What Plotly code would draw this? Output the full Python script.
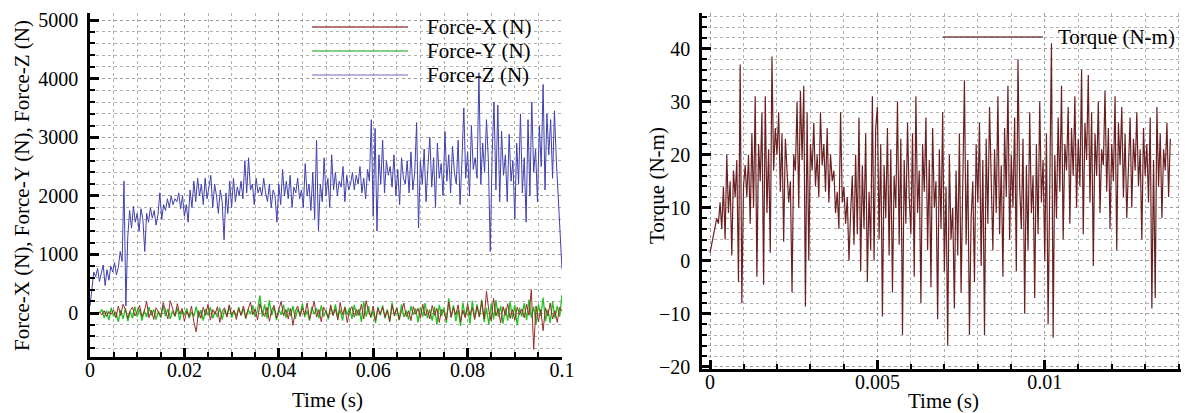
import numpy as np
import plotly.graph_objects as go

# ---- data ----
# Force-Z (N), sampled every 0.4 ms from 0 to 0.1 s
force_z = [
    120, 380, 700, 620, 760, 540, 680, 820, 470, 740,
    560, 800, 700, 860, 650, 780, 1050, 880, 2250, 120,
    1300, 1750, 1450, 1820, 1550, 1700, 1400, 1780, 1600, 1050,
    1700, 1550, 1800, 1620, 1750, 1500, 1680, 2050, 1600, 1850,
    1750, 1950, 1800, 2000, 1850, 1950, 1900, 2050, 1780, 2000,
    1650, 1850, 1550, 2100, 1800, 2250, 1900, 2300, 2000, 2200,
    1850, 2300, 1950, 2150, 2350, 1800, 2200, 2000, 1700, 2100,
    1900, 1250, 2050, 1700, 2250, 1800, 2300, 1900, 2150, 2000,
    2250, 1950, 2600, 2050, 2650, 2100, 2200, 1850, 2300, 2050,
    2150, 2000, 2300, 2050, 1900, 2200, 1800, 2100, 2000, 1550,
    2200, 1850, 2450, 2000, 2250, 1950, 2350, 1800, 2150, 2050,
    2300, 1950, 2100, 1800, 2550, 2000, 2200, 1750, 2400, 1600,
    2950, 1400, 2200, 1900, 2650, 2000, 2300, 1800, 2700, 2100,
    2400, 2000, 2250, 2150, 2500, 1900, 2350, 2100, 2200, 2400,
    2100, 2350, 2200, 2500, 2050, 2300, 1950, 2450, 2250, 3300,
    1650, 3150, 1400, 2700, 2200, 2950, 2050, 2600, 2350, 2500,
    2150, 2700, 2000, 2450, 1850, 2650, 2300, 2200, 2600, 2050,
    2750, 2100, 2400, 3250, 1450, 2600, 2200, 2800, 1900, 2500,
    3000, 2150, 2650, 1800, 2900, 2300, 2550, 2000, 3100, 2250,
    2700, 2050, 2850, 2400, 2200, 2950, 1850, 2600, 3500, 2300,
    2750, 2000, 3200, 2450, 2650, 2300, 4100, 2200, 2900, 2400,
    3300, 2600, 1050, 2700, 3600, 2100, 3550, 1900, 3100, 2350,
    2700, 1900, 3050, 2250, 2600, 1600, 2900, 2200, 3400, 2050,
    2650, 1550, 3300, 2000, 3600, 2400, 2800, 1900, 3200, 2500,
    3900, 2100, 3400, 2700, 3300, 2300, 3450, 2600, 1900, 1200,
    750,
]

# Force-Y (N), sampled every 0.5 ms from 0.002 to 0.1 s
force_y = [
    0, 60, -80, 40, -120, 90, -60, 20, -150, 50, -100, 80, -140, 30, -90, 110, -60, 70, -130, 40,
    -70, 100, -40, 60, -110, 30, -80, 120, -50, 70, -100, 40, -60, 90, -120, 50, -30, 80, -90, 20,
    -60, 110, -80, 50, -130, 70, -40, 100, -90, 30, -70, 90, -110, 60, -50, 120, -80, 40, -60, 100,
    -40, 80, -100, 60, -20, 130, -70, 50, 300, -60, 150, -90, 220, -40, 100, -120, 60, -30, 140, -80,
    90, -50, 120, -100, 70, -30, 160, -70, 40, -130, 110, -20, 80, -90, 130, -60, 50, -110, 100, -40,
    150, -80, 60, -130, 110, -30, 90, -100, 140, -50, 70, -150, 200, -60, 120, -80, 40, -170, 100, -40,
    130, -90, 60, -140, 180, -50, 90, -120, 150, -70, 40, -110, 120, -30, 80, -160, 100, -60, 170, -90,
    60, -130, 110, -200, 140, -50, 90, -170, 250, -80, 130, -140, 60, -220, 180, -60, 100, -180, 210, -90,
    150, -70, 230, -150, 90, -200, 160, -110, 220, -60, 120, -180, 80, -130, 200, -100, 140, -210, 90, -60,
    170, -120, 230, -80, 110, -190, 150, -50, 260, -140, 60, -170, 200, -90, 120, -60, 310,
]

# Force-X (N), same sampling as Force-Y
force_x = [
    20, -30, 40, -60, 30, -20, 50, -80, 120, -40, 150, 60, -90, 40, 100, -50, 20, 130, -60, 30,
    200, -80, 50, -110, 90, 20, -60, 180, 40, -100, 210, 60, -50, 160, -20, 80, -140, 30, -60, 120,
    -150, -320, 40, -90, 100, -40, 150, -120, 60, -20, 110, -160, 30, 90, -70, 140, -30, 50, -110, 80,
    -40, 120, -80, 60, 190, -30, 70, -120, 160, 20, -60, 100, -140, 50, 130, -90, 40, 200, -50, 60,
    -100, 80, -210, 30, 120, -60, 90, -30, 170, -110, 40, 200, -70, 60, -150, 100, 20, -80, 140, -40,
    70, -120, 180, -30, 90, -160, 40, 110, -70, 60, -40, 150, -100, 210, 30, -60, 120, -130, 80, -20,
    100, -70, 50, -150, 140, -40, 90, -110, 30, 170, -60, 40, -130, 110, -20, 80, -90, 150, -50, 60,
    -100, 130, -40, 80, -160, 60, 20, -120, 190, -70, 100, -30, 140, -150, 50, -80, 160, -40, 90, -110,
    120, -60, 200, -100, 370, 40, -130, 250, -50, 80, -170, 110, -40, 160, -90, 60, -120, 100, -30, 70,
    -80, 150, -40, 400, -620, 120, -150, 60, -300, 90, -50, 170, -100, 40, -160, 100, 30,
]

# Torque (N-m), sampled every 0.05 ms from 0 to 0.01375 s
torque = [
    1.5, 3, 5, 6.5, 8, 7, 11, 6, 14, 4, 20, 9, 15, 1, 17, 12, 19, -4, 37, -8,
    14, 18, 12, 20, 7, 24, 10, 31, -3, 22, 15, 28, -4.5, 31, 9, 21, 1.5, 38.5, 17, 25,
    20, 28, 13, 24, 3.6, 23, 16, 11, 15, -6, 20, 17, 30, 10, 32, 19, 33, -8.6, 28, 0,
    22, 17, 26, 14, 20, 12, 28, 18, 22, 13, 25, 11, 20, 15, 17, 9, 13, 6, 28, 11,
    14, 7, 12, 0, 9, 16, 3, 20, 5, 27, -2, 18, 6, 24, -4, 13, 2, 31, 0, 25,
    29, 4, 22, -10.5, 18, 8, 25, 1, 21, -6, 16, 10, 30, 3, 23, -14, 19, 7, 26, 12,
    5, 24, -3, 31, 9, 17, -8, 22, 13, 27, 2, 19, -5, 25, 10, 15, -11, 21, 6, 28,
    -2, 14, -16, 20, 4, 10, -9, 17, 1, 24, -6, 12, 34, 3, 19, -14, 8, 15, -4, 22,
    11, 26, -1, 19, -14, 23, 7, 29, 13, 2, 21, 9, 31, 5, 18, -3, 25, 12, 33, 4,
    20, 10, 27, -2, 38, 14, 6, 23, -10, 18, 2, 28, 9, 16, -7, 22, 5, 30, 11, 19,
    0, 24, -12, 15, 41, -14.5, 20, 8, 27, 13, 33, 4, 22, 17, 29, 7, 25, 16, 31, 10,
    23, 14, 36, 5, 26, 19, 35, 11, 28, -1, 24, 16, 30, 9, 21, 18, 32, 13, 25, 6,
    22, 15, 31, 2, 26, 18, 29, 12, 24, 8, 20, 27, 10, 23, 17, 28, 14, 21, 4, 25,
    16, 22, 11, 27, -9, 19, -7, 29, 14, 24, 8, 21, 17, 26, 12, 23,
]

force_z_t = np.linspace(0.0, 0.1, len(force_z))
force_xy_t = np.linspace(0.002, 0.1, len(force_y))
torque_t = np.linspace(0.0, 0.01375, len(torque))

FONT = "Liberation Serif"
C_X = "#9b2a2a"
C_Y = "#1fc41f"
C_Z = "#4040b0"
C_T = "#6a2020"

# the page body adds an 8px margin, so layout is laid out in screen pixels minus 8
OFF = 8
W, H = 1189 - OFF, 413 - OFF


def px_x(px):
    return (px - OFF) / W


def px_y(py):
    return 1 - (py - OFF) / H


fig = go.Figure()
fig.add_trace(go.Scatter(x=force_z_t, y=force_z, mode="lines", line=dict(color=C_Z, width=1),
                         name="Force-Z (N)", xaxis="x", yaxis="y"))
fig.add_trace(go.Scatter(x=force_xy_t, y=force_y, mode="lines", line=dict(color=C_Y, width=1.3),
                         name="Force-Y (N)", xaxis="x", yaxis="y"))
fig.add_trace(go.Scatter(x=force_xy_t, y=force_x, mode="lines", line=dict(color=C_X, width=1),
                         name="Force-X (N)", xaxis="x", yaxis="y"))
fig.add_trace(go.Scatter(x=torque_t, y=torque, mode="lines", line=dict(color=C_T, width=1.2),
                         name="Torque (N-m)", xaxis="x2", yaxis="y2"))


def axis(rng, dtick, minor_dtick, domain, anchor, standoff):
    return dict(
        range=rng, domain=domain, anchor=anchor, tick0=0, dtick=dtick,
        automargin=False,
        showline=True, linecolor="black", linewidth=2.5,
        ticks="inside", ticklen=9, tickwidth=2.5, tickcolor="black",
        showgrid=True, gridcolor="#9a9a9a", griddash="dot", gridwidth=1,
        zeroline=False, ticklabelstandoff=standoff,
        tickfont=dict(family=FONT, size=20, color="black"),
        minor=dict(dtick=minor_dtick, tick0=0, ticks="inside", ticklen=5, tickwidth=1.5,
                   tickcolor="black", showgrid=True, gridcolor="#b0b0b0", griddash="dot"),
    )


fig.update_layout(
    width=W, height=H,
    margin=dict(l=0, r=0, t=0, b=0, pad=0, autoexpand=False),
    paper_bgcolor="white", plot_bgcolor="white",
    showlegend=False,
    xaxis=axis([0, 0.1], 0.02, 0.005, [px_x(90), px_x(562)], "y", -7),
    yaxis=axis([-750, 5120], 1000, 200, [px_y(357), px_y(13)], "x", 5),
    xaxis2=axis([-0.00024, 0.0141], 0.005, 0.001, [px_x(702), px_x(1182)], "y2", -7),
    yaxis2=axis([-20.4, 46.7], 10, 2, [px_y(369), px_y(13)], "x2", 5),
)

# axis titles
titles = [
    ("Time (s)", 327, 400, 0),
    ("Time (s)", 943, 401, 0),
    ("Force-X (N), Force-Y (N), Force-Z (N)", 22, 186, -90),
    ("Torque (N-m)", 657, 186, -90),
]
for text, px, py, ang in titles:
    fig.add_annotation(text=text, xref="paper", yref="paper", x=px_x(px), y=px_y(py),
                       xanchor="center", yanchor="middle", textangle=ang, showarrow=False,
                       font=dict(family=FONT, size=21, color="black"))

# hand-drawn legends (long line samples like the original)
legend_items = [
    ("Force-X (N)", "#a04848", 312, 408, 27, 425),
    ("Force-Y (N)", "#5cbb5c", 312, 408, 51, 425),
    ("Force-Z (N)", "#9a9ad0", 312, 408, 75, 425),
    ("Torque (N-m)", "#7a4040", 943, 1043, 37, 1056),
]
for text, col, x0, x1, py, tx in legend_items:
    fig.add_shape(type="line", xref="paper", yref="paper", x0=px_x(x0), x1=px_x(x1),
                  y0=px_y(py), y1=px_y(py), line=dict(color=col, width=1.5))
    fig.add_annotation(text=text, xref="paper", yref="paper", x=px_x(tx), y=px_y(py),
                       xanchor="left", yanchor="middle", showarrow=False,
                       font=dict(family=FONT, size=21, color="black"))

fig.write_html("out.html")
